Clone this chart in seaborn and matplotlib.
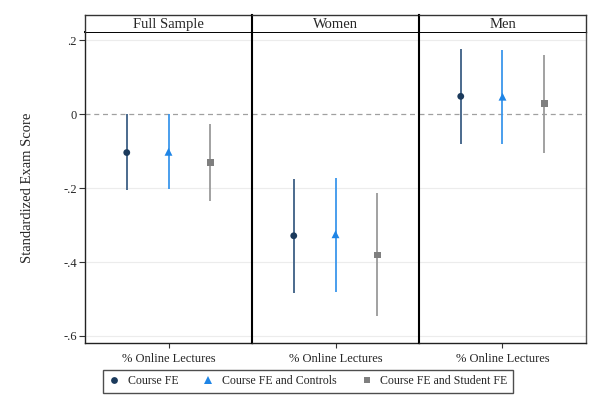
import matplotlib
matplotlib.use("Agg")
import matplotlib.pyplot as plt
import pandas as pd
import seaborn as sns

panels = ["Full Sample", "Women", "Men"]
models = ["Course FE", "Course FE and Controls", "Course FE and Student FE"]

# point estimates and 95% CI per panel, ordered as in models
full_coef = [-0.104, -0.102, -0.131]
full_lo = [-0.204, -0.202, -0.235]
full_hi = [0.0, 0.0, -0.027]

women_coef = [-0.329, -0.325, -0.381]
women_lo = [-0.484, -0.480, -0.547]
women_hi = [-0.176, -0.173, -0.214]

men_coef = [0.048, 0.047, 0.029]
men_lo = [-0.081, -0.081, -0.104]
men_hi = [0.176, 0.174, 0.161]

yticks = [0.2, 0, -0.2, -0.4, -0.6]
ytick_labels = [".2", "0", "-.2", "-.4", "-.6"]
xlabel = "% Online Lectures"
ylabel = "Standardized Exam Score"

rows = []
for panel, coef, lo, hi in zip(panels,
                               [full_coef, women_coef, men_coef],
                               [full_lo, women_lo, men_lo],
                               [full_hi, women_hi, men_hi]):
    for m, c, l, h in zip(models, coef, lo, hi):
        rows.append({"panel": panel, "model": m, "coef": c, "lo": l, "hi": h})
df = pd.DataFrame(rows)

sns.set_style("white", {"xtick.bottom": True, "ytick.left": True})
plt.rcParams["font.family"] = ["Liberation Serif", "DejaVu Serif"]
plt.rcParams["font.size"] = 9

point_colors = {"Course FE": "#1b3a5c", "Course FE and Controls": "#1f85e6",
                "Course FE and Student FE": "#7f7f7f"}
line_colors = {"Course FE": "#3d5f85", "Course FE and Controls": "#3a96ec",
               "Course FE and Student FE": "#9a9a9a"}
markers = {"Course FE": "o", "Course FE and Controls": "^",
           "Course FE and Student FE": "s"}
sizes = {"Course FE": 24, "Course FE and Controls": 32,
         "Course FE and Student FE": 22}

fig = plt.figure(figsize=(6.02, 3.99), dpi=100)
W, H = 602, 399
left, right, top, bottom, head_top = 85, 586, 32, 343, 15
pw = (right - left) / 3

axes = []
for i, panel in enumerate(panels):
    x0 = left + i * pw
    ax = fig.add_axes([x0 / W, 1 - bottom / H, pw / W, (bottom - top) / H])
    hax = fig.add_axes([x0 / W, 1 - top / H, pw / W, (top - head_top) / H])
    sub = df[df["panel"] == panel]

    for y in yticks:
        if y == 0:
            ax.axhline(0, color="#a0a0a0", lw=0.9, ls=(0, (4, 3)), zorder=1)
        else:
            ax.axhline(y, color="#ececec", lw=0.8, zorder=0)

    ax.vlines(sub["model"], sub["lo"], sub["hi"],
              colors=[line_colors[m] for m in sub["model"]], lw=1.3, zorder=2)
    sns.scatterplot(data=sub, x="model", y="coef", hue="model", style="model",
                    size="model", sizes=sizes,
                    palette=point_colors, markers=markers,
                    edgecolor="none", ax=ax, legend=False, zorder=3)

    ax.set_xlim(-1, 3)
    ax.set_ylim(-0.619, 0.222)
    ax.set_xticks([1])
    ax.set_xticklabels([xlabel])
    ax.set_xlabel("")
    ax.set_ylabel("")
    ax.tick_params(axis="x", bottom=True, length=3.5, width=0.8,
                   color="#333333", pad=4)
    if i == 0:
        ax.set_yticks(yticks)
        ax.set_yticklabels(ytick_labels)
        ax.tick_params(axis="y", left=True, length=4, width=0.8,
                       color="#333333", pad=2)
    else:
        ax.set_yticks([])
    for s in ["top", "right", "left", "bottom"]:
        ax.spines[s].set_visible(True)
        ax.spines[s].set_color("#222222")
        ax.spines[s].set_linewidth(1.0)
    ax.spines["top"].set_linewidth(1.4)
    ax.spines["top"].set_color("black")
    if i > 0:
        ax.spines["left"].set_linewidth(1.5)
        ax.spines["left"].set_color("black")
    if i < 2:
        ax.spines["right"].set_visible(False)
    else:
        ax.spines["right"].set_color("#555555")

    hax.set_xticks([])
    hax.set_yticks([])
    for s in hax.spines.values():
        s.set_color("#333333")
        s.set_linewidth(1.0)
    hax.spines["bottom"].set_visible(False)
    if i > 0:
        hax.spines["left"].set_linewidth(1.5)
        hax.spines["left"].set_color("black")
    if i < 2:
        hax.spines["right"].set_visible(False)
    hax.text(0.5, 0.45, panel, ha="center", va="center", fontsize=10.5,
             transform=hax.transAxes)
    axes.append(ax)

# legend built from the same marker/colour mapping
handles = [plt.Line2D([], [], ls="", marker=markers[m], color=point_colors[m],
                      markeredgewidth=0, markersize=(sizes[m] ** 0.5))
           for m in models]
leg = fig.legend(handles, models, loc="center", ncol=3,
                 bbox_to_anchor=(0.5116, 1 - 381.5 / H), frameon=True,
                 fancybox=False, edgecolor="#222222", fontsize=8.6,
                 handlelength=1.0, handletextpad=0.65, columnspacing=2.0,
                 borderpad=0.45)
leg.get_frame().set_linewidth(1.0)

fig.text(28 / W, 1 - 188 / H, ylabel, rotation=90, ha="center", va="center",
         fontsize=10.5)

fig.savefig("out.png", dpi=100)
